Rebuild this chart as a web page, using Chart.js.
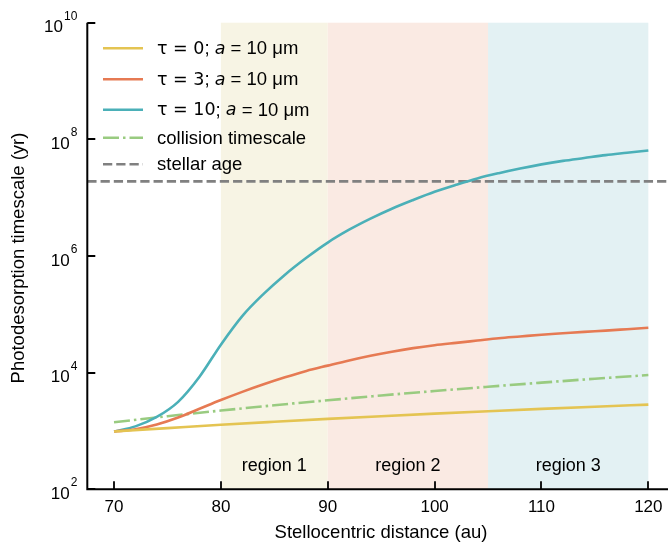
<!DOCTYPE html>
<html>
<head>
<meta charset="utf-8">
<script src="https://cdn.jsdelivr.net/npm/chart.js@4.4.1/dist/chart.umd.min.js"></script>
<style>
  html, body { margin: 0; padding: 0; background: #fff; }
</style>
</head>
<body>
<canvas id="timescale" width="668" height="544"></canvas>
<script>
// stellocentric distance grids (au)
var distFine = [70, 72, 74, 76, 78, 80, 82, 84, 86, 88, 90, 92, 94, 96, 98, 100,
                102, 104, 106, 108, 110, 112, 114, 116, 118, 120];
var distCoarse = [70, 75, 80, 85, 90, 95, 100, 105, 110, 115, 120];

// photodesorption timescales (yr), a = 10 um
var tau0 = [980, 1120, 1280, 1440, 1610, 1790, 1980, 2180, 2390, 2610, 2830];
var tau3 = [980, 1070, 1290, 1700, 2400, 3390, 4680, 6310, 8320, 1.07e4, 1.32e4,
            1.62e4, 1.95e4, 2.29e4, 2.63e4, 2.95e4, 3.24e4, 3.55e4, 3.89e4, 4.17e4,
            4.47e4, 4.73e4, 5.01e4, 5.25e4, 5.56e4, 5.89e4];
var tau10 = [980, 1200, 1740, 3160, 8510, 3.02e4, 9.33e4, 2.24e5, 4.79e5, 9.33e5,
             1.70e6, 2.82e6, 4.37e6, 6.46e6, 9.12e6, 1.26e7, 1.66e7, 2.14e7, 2.63e7,
             3.16e7, 3.72e7, 4.27e7, 4.79e7, 5.37e7, 5.89e7, 6.46e7];
var collision = [1410, 1790, 2240, 2760, 3360, 4060, 4840, 5730, 6740, 7860, 9100];
var stellarAge = 1.9e7;

var regionEdges = [80, 90, 105, 120];
var regionNames = ['region 1', 'region 2', 'region 3'];
var regionColors = ['#f7f4e4', '#faeae3', '#e3f1f3'];

var xTicks = [70, 80, 90, 100, 110, 120];
var yTicks = [1e2, 1e4, 1e6, 1e8, 1e10];
var xMin = 67.5, xMax = 121.84;

function pts(xs, ys) {
  return xs.map(function (x, i) { return { x: x, y: ys[i] }; });
}

var TXT = '"Liberation Sans", Arial, sans-serif';
var MATH = '"DejaVu Sans", sans-serif';

// legend label: "τ = n" and "a" are math, the rest plain text
function drawLabel(ctx, text, x, y) {
  var m = text.match(/^(τ = \d+)(; )(a)( = .*)$/);
  var runs = m
    ? [[m[1], '17.5px ' + MATH], [m[2], '18.5px ' + TXT], [m[3], 'italic 17.5px ' + MATH], [m[4], '18.5px ' + TXT]]
    : [[text, '18.5px ' + TXT]];
  runs.forEach(function (r) {
    ctx.font = r[1];
    ctx.fillText(r[0], x, y);
    x += ctx.measureText(r[0]).width;
  });
}

var frame = {
  id: 'frame',
  beforeDatasetsDraw: function (chart) {
    var ctx = chart.ctx, a = chart.chartArea, xs = chart.scales.x;
    ctx.save();
    for (var i = 0; i < regionNames.length; i++) {
      var x0 = xs.getPixelForValue(regionEdges[i]);
      var x1 = xs.getPixelForValue(regionEdges[i + 1]);
      ctx.fillStyle = regionColors[i];
      ctx.fillRect(x0, a.top, x1 - x0, a.bottom - a.top);
    }
    ctx.restore();
  },
  afterDraw: function (chart) {
    var ctx = chart.ctx, a = chart.chartArea;
    var xs = chart.scales.x, ys = chart.scales.y;
    ctx.save();
    ctx.fillStyle = '#000';
    ctx.strokeStyle = '#000';

    // region names
    ctx.font = '18px ' + TXT;
    ctx.textAlign = 'center';
    ctx.textBaseline = 'alphabetic';
    for (var i = 0; i < regionNames.length; i++) {
      var cx = (xs.getPixelForValue(regionEdges[i]) + xs.getPixelForValue(regionEdges[i + 1])) / 2;
      ctx.fillText(regionNames[i], cx, a.bottom - 18);
    }

    // spines
    ctx.lineWidth = 2;
    ctx.beginPath();
    ctx.moveTo(a.left, a.top);
    ctx.lineTo(a.left, a.bottom);
    ctx.moveTo(a.left - 1, a.bottom);
    ctx.lineTo(a.right, a.bottom);
    ctx.stroke();

    // inward ticks
    ctx.lineWidth = 1.8;
    ctx.beginPath();
    xTicks.forEach(function (v) {
      var px = Math.round(xs.getPixelForValue(v));
      ctx.moveTo(px, a.bottom);
      ctx.lineTo(px, a.bottom - 8);
    });
    yTicks.forEach(function (v) {
      var py = Math.round(ys.getPixelForValue(v));
      ctx.moveTo(a.left, py);
      ctx.lineTo(a.left + 8, py);
    });
    ctx.stroke();

    // x tick labels
    ctx.font = '17px ' + TXT;
    ctx.textAlign = 'center';
    xTicks.forEach(function (v) {
      ctx.fillText(String(v), xs.getPixelForValue(v), a.bottom + 23);
    });

    // y tick labels as 10^n
    ctx.textAlign = 'right';
    yTicks.forEach(function (v) {
      var py = ys.getPixelForValue(v);
      var ex = String(Math.round(Math.log10(v)));
      ctx.font = '12px ' + TXT;
      var right = a.left - 10;
      ctx.fillText(ex, right, py - 3);
      var w = ctx.measureText(ex).width;
      ctx.font = '17px ' + TXT;
      ctx.fillText('10', right - w - 1, py + 9.5);
    });

    // axis titles
    ctx.font = '18.5px ' + TXT;
    ctx.textAlign = 'center';
    ctx.fillText('Stellocentric distance (au)', 381, a.bottom + 49);
    ctx.translate(24, (a.top + a.bottom) / 2 + 2);
    ctx.rotate(-Math.PI / 2);
    ctx.fillText('Photodesorption timescale (yr)', 0, 0);
    ctx.restore();

    // legend
    var rows = [48.3, 79.3, 109.7, 137.7, 164.3];
    ctx.save();
    ctx.textAlign = 'left';
    ctx.textBaseline = 'middle';
    chart.data.datasets.forEach(function (ds, i) {
      var y = rows[i];
      ctx.strokeStyle = ds.borderColor;
      ctx.lineWidth = ds.borderWidth;
      ctx.setLineDash(ds.borderDash || []);
      ctx.beginPath();
      ctx.moveTo(103, y);
      ctx.lineTo(143, y);
      ctx.stroke();
      ctx.fillStyle = '#000';
      drawLabel(ctx, ds.label, 157, y + 1);
    });
    ctx.restore();
  }
};

new Chart(document.getElementById('timescale'), {
  type: 'line',
  data: {
    datasets: [
      { label: 'τ = 0; a = 10 μm', data: pts(distCoarse, tau0),
        borderColor: '#e4c452', borderWidth: 2.6, cubicInterpolationMode: 'monotone' },
      { label: 'τ = 3; a = 10 μm', data: pts(distFine, tau3),
        borderColor: '#e67a53', borderWidth: 2.6, cubicInterpolationMode: 'monotone' },
      { label: 'τ = 10; a = 10 μm', data: pts(distFine, tau10),
        borderColor: '#4bb0b8', borderWidth: 2.6, cubicInterpolationMode: 'monotone' },
      { label: 'collision timescale', data: pts(distCoarse, collision),
        borderColor: '#99cb80', borderWidth: 2.6, borderDash: [16, 4, 2.5, 4],
        cubicInterpolationMode: 'monotone' },
      { label: 'stellar age', data: [{ x: xMin, y: stellarAge }, { x: xMax, y: stellarAge }],
        borderColor: '#808080', borderWidth: 2.6, borderDash: [9.25, 4] }
    ]
  },
  options: {
    responsive: false,
    devicePixelRatio: 1,
    animation: false,
    layout: { padding: { left: 87.3, right: 0, top: 22.7, bottom: 54.7 } },
    elements: { point: { radius: 0, hoverRadius: 0 } },
    plugins: { legend: { display: false }, tooltip: { enabled: false } },
    scales: {
      x: { type: 'linear', min: xMin, max: xMax, display: false },
      y: { type: 'logarithmic', min: 1e2, max: 1e10, display: false }
    }
  },
  plugins: [frame]
});
</script>
</body>
</html>
